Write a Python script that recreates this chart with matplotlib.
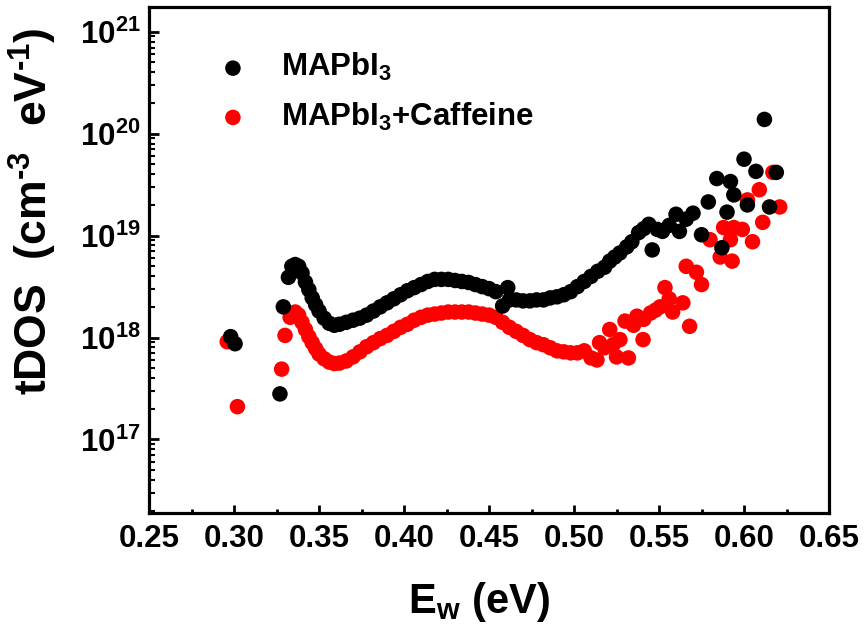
import numpy as np
import matplotlib
matplotlib.use("Agg")
import matplotlib.pyplot as plt
from matplotlib.ticker import FixedLocator, FuncFormatter, LogLocator, NullFormatter

plt.rcParams['font.family'] = ['Liberation Sans', 'DejaVu Sans']
plt.rcParams['font.weight'] = 'bold'
plt.rcParams['mathtext.fontset'] = 'custom'
plt.rcParams['mathtext.rm'] = 'Liberation Sans:bold'
plt.rcParams['mathtext.it'] = 'Liberation Sans:bold'
plt.rcParams['mathtext.bf'] = 'Liberation Sans:bold'

# %% data (Ew in eV, tDOS in units of 1e18 cm^-3 eV^-1)
ew_pristine = [0.298, 0.3006, 0.327, 0.329, 0.332, 0.334, 0.336, 0.338, 0.340, 0.342,
               0.344, 0.346, 0.348, 0.350, 0.353, 0.356, 0.359, 0.362, 0.366, 0.370,
               0.374, 0.378, 0.382, 0.386, 0.390, 0.394, 0.398, 0.402, 0.406, 0.410,
               0.414, 0.418, 0.422, 0.426, 0.430, 0.434, 0.438, 0.442, 0.446, 0.450,
               0.454, 0.458, 0.461, 0.462, 0.466, 0.470, 0.474, 0.478, 0.482, 0.486,
               0.490, 0.494, 0.498, 0.502, 0.506, 0.510, 0.514, 0.518, 0.521, 0.524,
               0.527, 0.531, 0.534, 0.538, 0.541, 0.544, 0.546, 0.549, 0.552, 0.556,
               0.560, 0.562, 0.566, 0.570, 0.575, 0.579, 0.584, 0.587, 0.590, 0.592,
               0.594, 0.600, 0.602, 0.607, 0.612, 0.615, 0.619]
tdos_pristine = [1.02, 0.87, 0.28, 2.0, 3.9, 5.0, 5.2, 5.0, 4.3, 3.5,
                 2.95, 2.45, 2.1, 1.82, 1.55, 1.38, 1.32, 1.35, 1.41, 1.48,
                 1.55, 1.66, 1.82, 2.0, 2.19, 2.4, 2.63, 2.88, 3.09, 3.31,
                 3.55, 3.72, 3.72, 3.72, 3.63, 3.55, 3.47, 3.31, 3.16, 3.02,
                 2.82, 2.04, 3.09, 2.34, 2.34, 2.29, 2.29, 2.34, 2.34, 2.45,
                 2.51, 2.63, 2.82, 3.16, 3.55, 3.98, 4.47, 4.9, 5.62, 6.17,
                 6.76, 7.76, 8.71, 10.7, 11.7, 12.9, 7.24, 11.5, 11.0, 12.6,
                 16.2, 11.0, 14.5, 16.6, 10.2, 21.4, 36.3, 7.6, 17.0, 33.9,
                 25.1, 56.2, 20.0, 42.7, 138.0, 19.1, 41.7]

ew_caffeine = [0.296, 0.302, 0.328, 0.330, 0.333, 0.336, 0.338, 0.340, 0.342, 0.344,
               0.346, 0.348, 0.350, 0.353, 0.356, 0.359, 0.362, 0.366, 0.370, 0.374,
               0.378, 0.382, 0.386, 0.390, 0.394, 0.398, 0.402, 0.406, 0.410, 0.414,
               0.418, 0.422, 0.426, 0.430, 0.434, 0.438, 0.442, 0.446, 0.450, 0.454,
               0.458, 0.462, 0.466, 0.470, 0.474, 0.478, 0.482, 0.486, 0.490, 0.494,
               0.498, 0.502, 0.506, 0.510, 0.5135, 0.515, 0.518, 0.521, 0.523, 0.525,
               0.527, 0.530, 0.532, 0.535, 0.537, 0.5406, 0.541, 0.545, 0.548, 0.5506,
               0.5535, 0.556, 0.558, 0.564, 0.566, 0.568, 0.572, 0.575, 0.580, 0.586,
               0.588, 0.592, 0.593, 0.594, 0.599, 0.602, 0.605, 0.609, 0.611, 0.617,
               0.621]
tdos_caffeine = [0.91, 0.21, 0.49, 1.05, 1.58, 1.78, 1.66, 1.41, 1.20, 1.02,
                 0.89, 0.78, 0.69, 0.62, 0.575, 0.556, 0.562, 0.589, 0.646, 0.724,
                 0.813, 0.891, 0.977, 1.05, 1.15, 1.26, 1.35, 1.48, 1.58, 1.66,
                 1.70, 1.74, 1.78, 1.78, 1.78, 1.78, 1.74, 1.70, 1.66, 1.58,
                 1.41, 1.26, 1.15, 1.05, 0.955, 0.891, 0.851, 0.794, 0.741, 0.724,
                 0.708, 0.708, 0.741, 0.631, 0.603, 0.891, 0.794, 1.20, 0.851, 0.646,
                 0.955, 1.45, 0.631, 1.32, 1.62, 0.955, 1.51, 1.74, 1.86, 2.0,
                 3.09, 2.4, 1.78, 2.19, 5.0, 1.29, 4.37, 3.31, 9.12, 6.17,
                 12.0, 9.12, 5.62, 12.0, 11.5, 22.4, 8.71, 28.2, 13.5, 41.7,
                 19.1]

labels = ['MAPbI$_3$', 'MAPbI$_3$+Caffeine']
x_ticks = [0.25, 0.30, 0.35, 0.40, 0.45, 0.50, 0.55, 0.60, 0.65]

# %% plot
fig = plt.figure(figsize=(8.65, 6.28), dpi=100)
ax = fig.add_axes([0.1723, 0.1831, 0.7861, 0.8058])

h_caf = ax.scatter(ew_caffeine, np.array(tdos_caffeine) * 1e18, s=125, c='#ff0000',
                   edgecolors='none', label=labels[1])
h_pri = ax.scatter(ew_pristine, np.array(tdos_pristine) * 1e18, s=125, c='black',
                   edgecolors='none', label=labels[0])

ax.set_yscale('log')
ax.set_xlim(0.25, 0.65)
ax.set_ylim(1.9e16, 1.75e21)

ax.xaxis.set_major_locator(FixedLocator(x_ticks))
ax.xaxis.set_minor_locator(FixedLocator([t + 0.025 for t in x_ticks[:-1]]))
ax.xaxis.set_major_formatter(FuncFormatter(lambda v, p: f'{v:.2f}'))
ax.yaxis.set_major_locator(LogLocator(base=10, numticks=20))
ax.yaxis.set_minor_locator(LogLocator(base=10, subs=np.arange(2, 10), numticks=20))
ax.yaxis.set_minor_formatter(NullFormatter())
ax.yaxis.set_major_formatter(FuncFormatter(lambda v, p: r'$\mathbf{10^{%d}}$' % round(np.log10(v))))

ax.tick_params(axis='both', which='both', direction='in', top=False, right=False)
ax.tick_params(axis='y', which='major', length=7, width=2, labelsize=22.5, pad=6)
ax.tick_params(axis='y', which='minor', length=4, width=1.5)
ax.tick_params(axis='x', which='major', length=6, width=2, labelsize=22.5, pad=8)
ax.tick_params(axis='x', which='minor', length=3, width=2)
for sp in ax.spines.values():
    sp.set_linewidth(2.3)

ax.set_xlabel('E$_{\\mathrm{w}}$ (eV)', fontsize=30, fontweight='bold')
ax.xaxis.set_label_coords(0.485, -0.132)
ax.set_ylabel('tDOS  (cm$^{\\text{-3}}$  eV$^{\\text{-1}}$)', fontsize=32, fontweight='bold')
ax.yaxis.set_label_coords(-0.133, 0.597)

ax.legend(handles=[h_pri, h_caf], labels=labels, loc='upper left', bbox_to_anchor=(0.082, 0.937),
          frameon=False, fontsize=22.5, handlelength=1.0, handletextpad=1.05, labelspacing=0.55,
          borderaxespad=0)

fig.savefig('out.png', dpi=100)
